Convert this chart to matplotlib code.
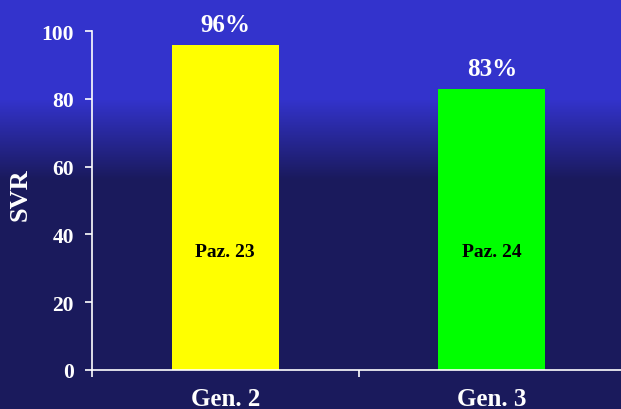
import numpy as np
import matplotlib
matplotlib.use("Agg")
import matplotlib.pyplot as plt

categories = ["Gen. 2", "Gen. 3"]
values = [96, 83]
pct_labels = ["96%", "83%"]
inner_labels = ["Paz. 23", "Paz. 24"]
bar_colors = ["#FFFF00", "#00FF00"]
yticks = [0, 20, 40, 60, 80, 100]

plt.rcParams['font.family'] = ['Liberation Serif', 'DejaVu Serif']
plt.rcParams['font.weight'] = 'bold'

W, H = 621, 410
fig = plt.figure(figsize=(W/100, H/100), dpi=100)

# background gradient
bg = fig.add_axes([0, 0, 1, 1], zorder=-10)
top_c = np.array([0x33, 0x33, 0xCC]) / 255
bot_c = np.array([0x1A, 0x1A, 0x5C]) / 255
rows = np.arange(H)
t = np.clip((rows - 100) / (180 - 100), 0, 1)
img = (top_c[None, :] * (1 - t[:, None]) + bot_c[None, :] * t[:, None])
img = np.repeat(img[:, None, :], 2, axis=1)
bg.imshow(img, aspect='auto', extent=[0, 1, 0, 1], origin='upper')
bg.axis('off')

x0 = 92 / W
y0 = 1 - 371 / H
y1 = 1 - 32 / H
ax = fig.add_axes([x0, y0, 625 / W - x0, y1 - y0])
ax.patch.set_alpha(0)

x = np.arange(len(categories))
ax.bar(x, values, width=0.4, color=bar_colors, zorder=2)
ax.set_xlim(-0.5, 1.5)
ax.set_ylim(0, 100)

for xi, v, pl, il in zip(x, values, pct_labels, inner_labels):
    ax.annotate(pl, (xi, v), xytext=(0, 6), textcoords='offset points',
                ha='center', va='bottom', color='white', fontsize=18, fontweight='bold')
    ax.text(xi, 35, il, ha='center', va='center', color='black', fontsize=14, fontweight='bold')

for s in ['top', 'right']:
    ax.spines[s].set_visible(False)
for s in ['left', 'bottom']:
    ax.spines[s].set_color('white')
    ax.spines[s].set_linewidth(1.2)

ax.set_yticks(yticks)
ax.set_yticklabels([str(v) for v in yticks])
ax.tick_params(axis='y', colors='white', labelsize=15.5, length=5, width=1.2, direction='out', pad=8)
ax.set_xticks([-0.5, 0.5, 1.5])
ax.set_xticklabels([])
ax.set_xticks(x, minor=True)
ax.set_xticklabels(categories, minor=True)
ax.tick_params(axis='x', which='major', colors='white', length=5, width=1.2, direction='out')
ax.tick_params(axis='x', which='minor', colors='white', length=0, labelsize=18, pad=12)
for lab in ax.get_yticklabels() + ax.get_xticklabels(minor=True):
    lab.set_fontweight('bold')

ax.set_ylabel("SVR", color='white', fontsize=19, fontweight='bold')
ax.yaxis.set_label_coords(-0.113, 0.52)

fig.savefig("out.png", dpi=100)
